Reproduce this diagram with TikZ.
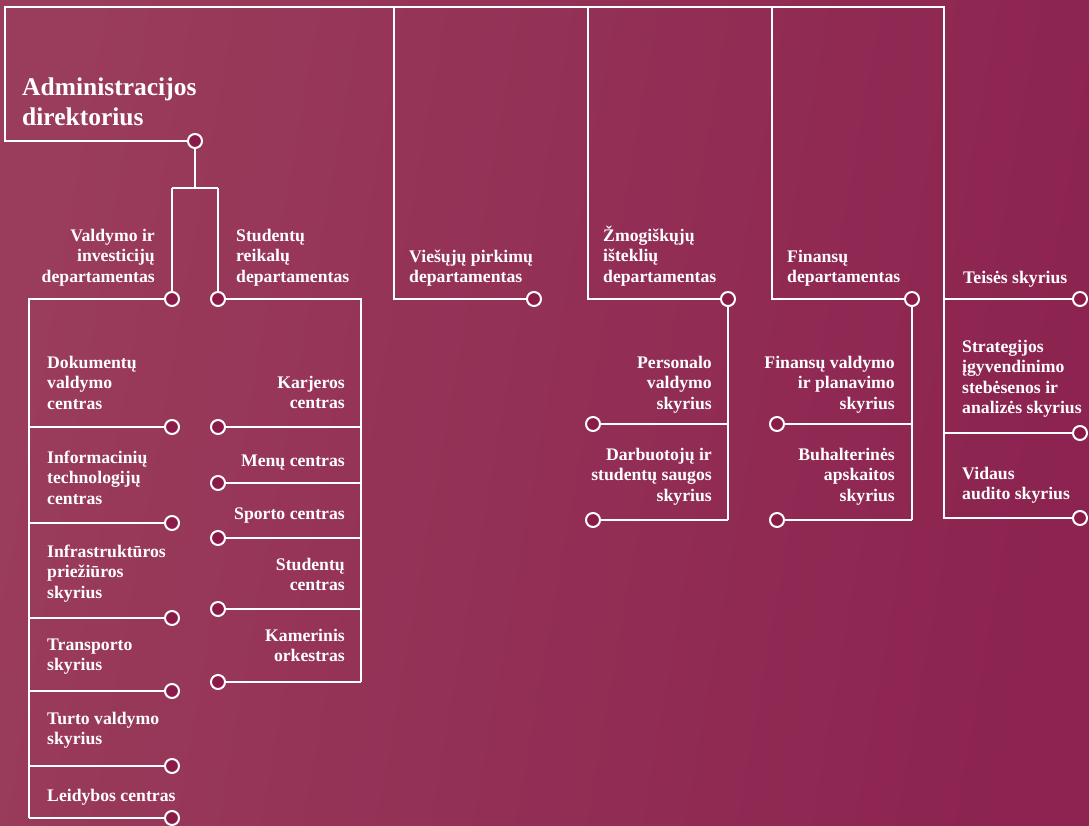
\documentclass[tikz,border=0pt]{standalone}
\usepackage{fontspec}
\setmainfont{Liberation Serif}
\usepackage{array}
\definecolor{bgL}{HTML}{9A3C5B}
\definecolor{bgR}{HTML}{8C2350}
\definecolor{dotfill}{HTML}{8A1A48}
\newcommand\blkL[1]{\begin{tabular}[t]{@{}l@{}}#1\end{tabular}}
\newcommand\blkR[1]{\begin{tabular}[t]{@{}r@{}}#1\end{tabular}}
\tikzset{
  ln/.style={draw=white, line width=2.6pt},
  dot/.style={circle, draw=white, fill=dotfill, line width=2pt, minimum size=14pt, inner sep=0pt},
  lbl/.style={text=white, inner sep=0pt, font=\fontsize{17.7}{20.6}\selectfont\bfseries},
  ttl/.style={text=white, inner sep=0pt, font=\fontsize{25.5}{30}\selectfont\bfseries},
}
\begin{document}
\begin{tikzpicture}[x=1pt,y=-1pt]
\shade[left color=bgL, right color=bgR, shading angle=80] (0,0) rectangle (1089,825);
\useasboundingbox (0,0) rectangle (1089,825);

% coordinates of the top bar
\coordinate (t0) at (5,7);
\coordinate (t1) at (394,7);
\coordinate (t2) at (588,7);
\coordinate (t3) at (772,7);
\coordinate (t4) at (944,7);

% director
\node[ttl, anchor=base west] (dir) at (22,95) {\blkL{Administracijos\\direktorius}};
\coordinate (c0) at (5,141);
\node[dot] (ddir) at (195,141) {};
\coordinate (split) at (195,188);
\coordinate (sl) at (172,188);
\coordinate (sr) at (218,188);
\draw[ln] (ddir) -- (c0) -- (t0) -- (t4) -- (944,519);
\draw[ln] (ddir) -- (split);
\draw[ln] (sl) -- (sr);

% Valdymo ir investiciju / Studentu reikalu
\node[dot] (dv) at (172,299) {};
\node[dot] (ds) at (218,299) {};
\draw[ln] (sl) -- (dv);
\draw[ln] (sr) -- (ds);
\node[lbl, anchor=base east] (lv) at (155,241) {\blkR{Valdymo ir\\investicijų\\departamentas}};
\node[lbl, anchor=base west] (ls) at (236,241) {\blkL{Studentų\\reikalų\\departamentas}};

% left column
\coordinate (vl0) at (29,299);
\coordinate (vl1) at (29,818);
\draw[ln] (dv) -- (vl0) -- (vl1);
\foreach \y/\n in {427/a1,523/a2,618/a3,691/a4,766/a5,818/a6}{
  \node[dot] (\n) at (172,\y) {};
  \coordinate (\n w) at (29,\y);
  \draw[ln] (\n w) -- (\n);
}
\node[lbl, anchor=base west] (la1) at (47,368) {\blkL{Dokumentų\\valdymo\\centras}};
\node[lbl, anchor=base west] (la2) at (47,463) {\blkL{Informacinių\\technologijų\\centras}};
\node[lbl, anchor=base west] (la3) at (47,557) {\blkL{Infrastruktūros\\priežiūros\\skyrius}};
\node[lbl, anchor=base west] (la4) at (47,650) {\blkL{Transporto\\skyrius}};
\node[lbl, anchor=base west] (la5) at (47,724) {\blkL{Turto valdymo\\skyrius}};
\node[lbl, anchor=base west] (la6) at (47,801) {\blkL{Leidybos centras}};

% right column (Studentu)
\coordinate (sr0) at (361,299);
\coordinate (sr1) at (361,682);
\draw[ln] (ds) -- (sr0) -- (sr1);
\foreach \y/\n in {427/b1,483/b2,538/b3,609/b4,682/b5}{
  \node[dot] (\n) at (218,\y) {};
  \coordinate (\n e) at (361,\y);
  \draw[ln] (\n e) -- (\n);
}
\node[lbl, anchor=base east] (lb1) at (345,388) {\blkR{Karjeros\\centras}};
\node[lbl, anchor=base east] (lb2) at (345,466) {\blkR{Menų centras}};
\node[lbl, anchor=base east] (lb3) at (345,519) {\blkR{Sporto centras}};
\node[lbl, anchor=base east] (lb4) at (345,570) {\blkR{Studentų\\centras}};
\node[lbl, anchor=base east] (lb5) at (345,641) {\blkR{Kamerinis\\orkestras}};

% Viesuju pirkimu
\node[dot] (dp) at (534,299) {};
\coordinate (p0) at (394,299);
\draw[ln] (t1) -- (p0) -- (dp);
\node[lbl, anchor=base west] (lp) at (409,262) {\blkL{Viešųjų pirkimų\\departamentas}};

% Zmogiskuju istekliu
\node[dot] (dz) at (728,299) {};
\coordinate (z0) at (588,299);
\coordinate (z1) at (728,520);
\draw[ln] (t2) -- (z0) -- (dz);
\draw[ln] (dz) -- (z1);
\node[lbl, anchor=base west] (lz) at (603,241) {\blkL{Žmogiškųjų\\išteklių\\departamentas}};
\foreach \y/\n in {424/z2,520/z3}{
  \node[dot] (\n) at (593,\y) {};
  \coordinate (\n e) at (728,\y);
  \draw[ln] (\n e) -- (\n);
}
\node[lbl, anchor=base east] (lz2) at (712,368) {\blkR{Personalo\\valdymo\\skyrius}};
\node[lbl, anchor=base east] (lz3) at (712,460) {\blkR{Darbuotojų ir\\studentų saugos\\skyrius}};

% Finansu
\node[dot] (df) at (912,299) {};
\coordinate (f0) at (772,299);
\coordinate (f1) at (912,520);
\draw[ln] (t3) -- (f0) -- (df);
\draw[ln] (df) -- (f1);
\node[lbl, anchor=base west] (lf) at (787,262) {\blkL{Finansų\\departamentas}};
\foreach \y/\n in {424/f2,520/f3}{
  \node[dot] (\n) at (777,\y) {};
  \coordinate (\n e) at (912,\y);
  \draw[ln] (\n e) -- (\n);
}
\node[lbl, anchor=base east] (lf2) at (895,368) {\blkR{Finansų valdymo\\ir planavimo\\skyrius}};
\node[lbl, anchor=base east] (lf3) at (895,460) {\blkR{Buhalterinės\\apskaitos\\skyrius}};

% Teises
\foreach \y/\n in {299/g1,433/g2,518/g3}{
  \node[dot] (\n) at (1080,\y) {};
  \coordinate (\n w) at (944,\y);
  \draw[ln] (\n w) -- (\n);
}
\node[lbl, anchor=base west] (lg1) at (963,283) {\blkL{Teisės skyrius}};
\node[lbl, anchor=base west] (lg2) at (962,352) {\blkL{Strategijos\\įgyvendinimo\\stebėsenos ir\\analizės skyrius}};
\node[lbl, anchor=base west] (lg3) at (962,479) {\blkL{Vidaus\\audito skyrius}};
\end{tikzpicture}
\end{document}
